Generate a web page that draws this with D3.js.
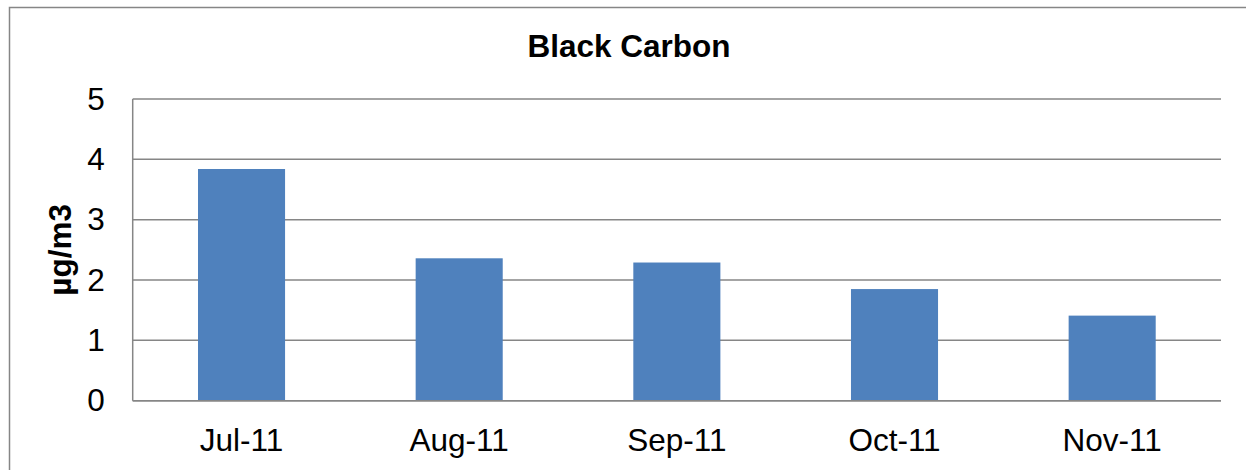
<!DOCTYPE html>
<html>
<head>
<meta charset="utf-8">
<script src="https://cdn.jsdelivr.net/npm/d3@7"></script>
<style>
  html, body { margin: 0; padding: 0; background: #fff; }
  svg { display: block; }
  text { font-family: "Liberation Sans", Arial, sans-serif; fill: #000; }
</style>
</head>
<body>
<svg id="chart" width="1246" height="470"></svg>
<script>
const categories = ["Jul-11", "Aug-11", "Sep-11", "Oct-11", "Nov-11"];
const values = [3.84, 2.36, 2.29, 1.85, 1.41];
const yTicks = [0, 1, 2, 3, 4, 5];
const title = "Black Carbon";
const yLabel = "µg/m3";

const svg = d3.select("#chart");
const plot = { left: 132.7, right: 1221, top: 99, bottom: 400.7 };
const FS = "31.5px";

// outer chart border
svg.append("rect")
  .attr("x", 9.5).attr("y", 7.5)
  .attr("width", 1240).attr("height", 500)
  .attr("fill", "#fff").attr("stroke", "#868686").attr("stroke-width", 1.5);

const x = d3.scaleBand()
  .domain(categories)
  .range([plot.left, plot.right])
  .paddingInner(0.6)
  .paddingOuter(0.3);

const y = d3.scaleLinear()
  .domain([0, 5])
  .range([plot.bottom, plot.top]);

// gridlines
svg.append("g")
  .selectAll("line")
  .data(yTicks)
  .join("line")
  .attr("x1", plot.left).attr("x2", plot.right)
  .attr("y1", d => y(d)).attr("y2", d => y(d))
  .attr("stroke", "#868686").attr("stroke-width", 1.5);

// bars
svg.append("g")
  .selectAll("rect")
  .data(values)
  .join("rect")
  .attr("x", (d, i) => x(categories[i]))
  .attr("width", x.bandwidth())
  .attr("y", d => y(d))
  .attr("height", d => y(0) - y(d))
  .attr("fill", "#4F81BD");

// axes lines
svg.append("line")
  .attr("x1", plot.left).attr("x2", plot.left)
  .attr("y1", plot.top).attr("y2", plot.bottom)
  .attr("stroke", "#868686").attr("stroke-width", 1.5);
svg.append("line")
  .attr("x1", plot.left).attr("x2", plot.right)
  .attr("y1", plot.bottom).attr("y2", plot.bottom)
  .attr("stroke", "#868686").attr("stroke-width", 1.5);

// y tick labels
const yAxis = d3.axisLeft(y).tickValues(yTicks).tickSize(0).tickPadding(28).tickFormat(d3.format("d"));
const gy = svg.append("g").attr("transform", `translate(${plot.left},0)`).call(yAxis);
gy.select(".domain").remove();
gy.selectAll("text")
  .style("font-family", '"Liberation Sans", Arial, sans-serif')
  .style("font-size", FS).attr("fill", "#000");

// x tick labels
const xAxis = d3.axisBottom(x).tickSize(0).tickPadding(28);
const gx = svg.append("g").attr("transform", `translate(0,${plot.bottom})`).call(xAxis);
gx.select(".domain").remove();
gx.selectAll("text")
  .style("font-family", '"Liberation Sans", Arial, sans-serif')
  .style("font-size", FS).attr("fill", "#000");

// title
svg.append("text")
  .attr("x", 629).attr("y", 57)
  .attr("text-anchor", "middle")
  .style("font-size", FS).style("font-weight", "bold")
  .text(title);

// y label
svg.append("text")
  .attr("transform", `translate(71,${(plot.top + plot.bottom) / 2}) rotate(-90)`)
  .attr("text-anchor", "middle")
  .style("font-size", FS).style("font-weight", "bold")
  .text(yLabel);
</script>
</body>
</html>
